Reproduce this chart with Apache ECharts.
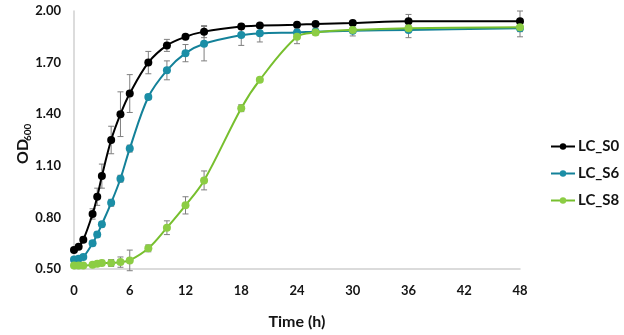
<!DOCTYPE html>
<html>
<head>
<meta charset="utf-8">
<script src="https://cdn.jsdelivr.net/npm/echarts@6/dist/echarts.min.js"></script>
<style>
html,body{margin:0;padding:0;background:#fff;}
#chart{width:624px;height:335px;}
</style>
</head>
<body>
<div id="chart"></div>
<script>
const seriesNames = ['LC_S0', 'LC_S6', 'LC_S8'];
const timeS0 = [0, 0.5, 1, 2, 2.5, 3, 4, 5, 6, 8, 10, 12, 14, 18, 20, 24, 26, 30, 36, 48];
const valS0  = [0.61, 0.63, 0.67, 0.82, 0.92, 1.04, 1.25, 1.40, 1.52, 1.70, 1.80, 1.85, 1.88, 1.91, 1.915, 1.92, 1.925, 1.93, 1.94, 1.94];
const errS0  = [0.01, 0.01, 0.015, 0.03, 0.05, 0.07, 0.08, 0.13, 0.11, 0.065, 0.035, 0.01, 0.035, 0.015, 0.01, 0.01, 0.01, 0.01, 0.04, 0.06];
const timeS6 = [0, 0.5, 1, 2, 2.5, 3, 4, 5, 6, 8, 10, 12, 14, 18, 20, 24, 26, 30, 36, 48];
const valS6  = [0.555, 0.56, 0.57, 0.65, 0.70, 0.76, 0.885, 1.025, 1.20, 1.50, 1.655, 1.755, 1.81, 1.86, 1.87, 1.875, 1.88, 1.885, 1.89, 1.90];
const errS6  = [0.01, 0.01, 0.01, 0.015, 0.015, 0.015, 0.02, 0.02, 0.02, 0.015, 0.055, 0.05, 0.10, 0.06, 0.05, 0.02, 0.02, 0.03, 0.045, 0.05];
const timeS8 = [0, 0.5, 1, 2, 2.5, 3, 4, 5, 6, 8, 10, 12, 14, 18, 20, 24, 26, 30, 36, 48];
const valS8  = [0.52, 0.52, 0.52, 0.525, 0.53, 0.535, 0.535, 0.54, 0.55, 0.62, 0.74, 0.87, 1.015, 1.435, 1.60, 1.85, 1.875, 1.89, 1.90, 1.905];
const errS8  = [0.005, 0.005, 0.005, 0.01, 0.01, 0.015, 0.02, 0.03, 0.06, 0.02, 0.04, 0.05, 0.055, 0.02, 0.01, 0.04, 0.01, 0.01, 0.015, 0.01];
const xTicks = [0, 6, 12, 18, 24, 30, 36, 42, 48];
const yTicks = [0.50, 0.80, 1.10, 1.40, 1.70, 2.00];
const yTitleMain = 'OD';
const yTitleSub = '600';
const xTitle = 'Time (h)';

const lineColors = ['#000000', '#138199', '#77bf2e'];
const markColors = ['#000000', '#1b8ea6', '#8ccd44'];

const times = [timeS0, timeS6, timeS8];
const vals = [valS0, valS6, valS8];
const errs = [errS0, errS6, errS8];

const FONT = 'Lato';
const TXT = '#141414';
const chart = echarts.init(document.getElementById('chart'));

const series = [];
seriesNames.forEach((name, i) => {
  const errData = times[i].map((t, k) => [t, vals[i][k] - errs[i][k], vals[i][k] + errs[i][k]]);
  series.push({
    type: 'custom',
    name: name + '_err',
    z: 1,
    silent: true,
    data: errData,
    encode: { x: 0, y: [1, 2] },
    renderItem: function (params, api) {
      const x = api.value(0);
      const lo = api.coord([x, api.value(1)]);
      const hi = api.coord([x, api.value(2)]);
      const half = 3;
      const st = { stroke: '#7f7f7f', lineWidth: 1 };
      return {
        type: 'group',
        children: [
          { type: 'line', shape: { x1: lo[0], y1: lo[1], x2: hi[0], y2: hi[1] }, style: st },
          { type: 'line', shape: { x1: lo[0] - half, y1: lo[1], x2: lo[0] + half, y2: lo[1] }, style: st },
          { type: 'line', shape: { x1: hi[0] - half, y1: hi[1], x2: hi[0] + half, y2: hi[1] }, style: st }
        ]
      };
    }
  });
});
seriesNames.forEach((name, i) => {
  series.push({
    type: 'line',
    name: name,
    z: 3 + i,
    smooth: 0.35,
    symbol: 'circle',
    symbolSize: 8,
    data: times[i].map((t, k) => [t, vals[i][k]]),
    lineStyle: { color: lineColors[i], width: 2 },
    itemStyle: { color: markColors[i], borderWidth: 0 },
    emphasis: { disabled: true }
  });
});

chart.setOption({
  animation: false,
  backgroundColor: '#ffffff',
  grid: { left: 74, right: 104, top: 11, bottom: 59, containLabel: false },
  legend: {
    data: seriesNames.map((n, i) => ({ name: n, itemStyle: { color: markColors[i] }, lineStyle: { color: lineColors[i] } })),
    orient: 'vertical',
    left: 545,
    top: 134,
    itemGap: 12,
    itemWidth: 24,
    itemHeight: 8,
    textStyle: { fontFamily: FONT, fontWeight: 'bold', fontSize: 15, color: TXT, padding: [0, 0, 0, -2] }
  },
  graphic: [{
    type: 'group',
    x: 23,
    y: 144,
    rotation: Math.PI / 2,
    silent: true,
    children: [
      { type: 'text', x: -20, y: 0, style: { text: yTitleMain, fontFamily: FONT, fontWeight: 'bold', fontSize: 16, fill: TXT, textAlign: 'left', textVerticalAlign: 'middle' } },
      { type: 'text', x: 3, y: 5, style: { text: yTitleSub, fontFamily: FONT, fontWeight: 'bold', fontSize: 10, fill: TXT, textAlign: 'left', textVerticalAlign: 'middle' } }
    ]
  }],
  xAxis: {
    type: 'value',
    min: xTicks[0],
    max: xTicks[xTicks.length - 1],
    interval: xTicks[1] - xTicks[0],
    name: xTitle,
    nameLocation: 'middle',
    nameGap: 45,
    nameTextStyle: { fontFamily: FONT, fontWeight: 'bold', fontSize: 16, color: TXT },
    axisLine: { lineStyle: { color: '#d0d0d0', width: 1.5 } },
    axisTick: { show: false },
    splitLine: { show: false },
    axisLabel: { margin: 15, fontFamily: FONT, fontWeight: 'bold', fontSize: 13, color: TXT }
  },
  yAxis: {
    type: 'value',
    min: yTicks[0],
    max: yTicks[yTicks.length - 1],
    interval: +(yTicks[1] - yTicks[0]).toFixed(2),
    axisLine: { show: true, lineStyle: { color: '#d0d0d0', width: 1.5 } },
    axisTick: { show: false },
    splitLine: { show: false },
    axisLabel: { margin: 13, fontFamily: FONT, fontWeight: 'bold', fontSize: 13, color: TXT, formatter: v => v.toFixed(2) }
  },
  series: series
});
</script>
</body>
</html>
